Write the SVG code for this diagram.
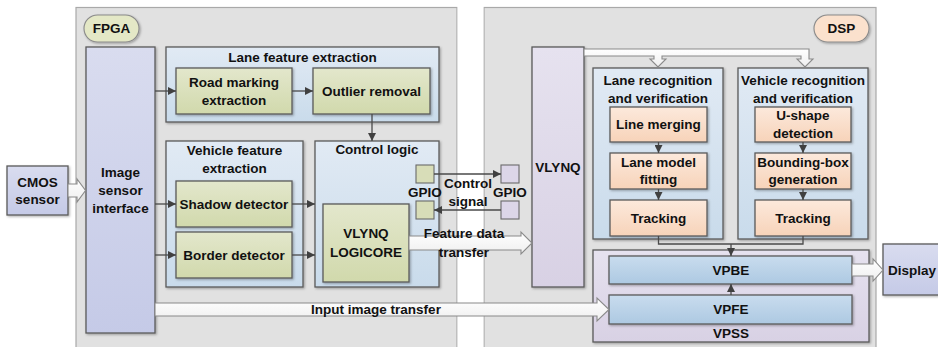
<svg xmlns="http://www.w3.org/2000/svg" width="938" height="347" viewBox="0 0 938 347">
<defs>
  <linearGradient id="gBlue" x1="0" y1="0" x2="0" y2="1">
    <stop offset="0" stop-color="#e1eaf4"/><stop offset="1" stop-color="#c9dbeb"/>
  </linearGradient>
  <linearGradient id="gGreen" x1="0" y1="0" x2="0" y2="1">
    <stop offset="0" stop-color="#e3e7cc"/><stop offset="1" stop-color="#d1d9ac"/>
  </linearGradient>
  <linearGradient id="gOrange" x1="0" y1="0" x2="0" y2="1">
    <stop offset="0" stop-color="#fce9dc"/><stop offset="1" stop-color="#f7d3b9"/>
  </linearGradient>
  <linearGradient id="gIsi" x1="0" y1="0" x2="0" y2="1">
    <stop offset="0" stop-color="#d9dcef"/><stop offset="1" stop-color="#c5cae7"/>
  </linearGradient>
  <linearGradient id="gLav" x1="0" y1="0" x2="0" y2="1">
    <stop offset="0" stop-color="#e6e2ef"/><stop offset="1" stop-color="#d8d1e4"/>
  </linearGradient>
  <linearGradient id="gVp" x1="0" y1="0" x2="0" y2="1">
    <stop offset="0" stop-color="#c9dcee"/><stop offset="1" stop-color="#adc9e2"/>
  </linearGradient>
  <linearGradient id="gArrow" x1="0" y1="0" x2="0" y2="1">
    <stop offset="0" stop-color="#ffffff"/><stop offset="1" stop-color="#efefef"/>
  </linearGradient>
  <filter id="sh" x="-10%" y="-10%" width="130%" height="130%">
    <feDropShadow dx="1.2" dy="1.2" stdDeviation="0.8" flood-color="#000" flood-opacity="0.3"/>
  </filter>
  <marker id="ah" viewBox="0 0 8 8" refX="8" refY="4" markerWidth="8" markerHeight="8" markerUnits="userSpaceOnUse" orient="auto">
    <path d="M0,0 L8,4 L0,8 Z" fill="#404040"/>
  </marker>
  <style>
    text { font-family: "Liberation Sans", Arial, sans-serif; font-weight: bold; font-size: 13.5px; fill: #111; text-anchor: middle; dominant-baseline: central; }
    .outer { fill: #e1e1e1; stroke: #a9a9a9; stroke-width: 1.2; }
    .grp { fill: url(#gBlue); stroke: #5a5a5a; stroke-width: 1.3; filter: url(#sh); }
    .green { fill: url(#gGreen); stroke: #5a5a5a; stroke-width: 1.3; filter: url(#sh); }
    .orange { fill: url(#gOrange); stroke: #5a5a5a; stroke-width: 1.3; filter: url(#sh); }
    .isi { fill: url(#gIsi); stroke: #5a5a5a; stroke-width: 1.3; filter: url(#sh); }
    .lav { fill: url(#gLav); stroke: #5a5a5a; stroke-width: 1.3; filter: url(#sh); }
    .vp { fill: url(#gVp); stroke: #5a5a5a; stroke-width: 1.3; filter: url(#sh); }
    .gpioF { fill: #d8ddb8; stroke: #6a6a6a; stroke-width: 1.1; }
    .gpioD { fill: #dcd6e8; stroke: #6a6a6a; stroke-width: 1.1; }
    .conn { fill: none; stroke: #4a4a4a; stroke-width: 1.3; }
    .big { fill: url(#gArrow); stroke: #8a8a8a; stroke-width: 1.1; }
  </style>
</defs>

<rect width="938" height="347" fill="#ffffff"/>

<!-- FPGA container -->
<g id="fpga">
  <rect class="outer" x="76" y="7.5" width="381" height="345"/>
  <rect x="84" y="15" width="55" height="27" rx="13.5" fill="#e4e8c6" stroke="#8a8a8a" stroke-width="1.1" filter="url(#sh)"/>
  <text x="111.5" y="28.5">FPGA</text>
</g>

<!-- DSP container -->
<g id="dsp">
  <rect class="outer" x="484" y="7.5" width="392" height="345"/>
  <rect x="814" y="15" width="55" height="27" rx="13.5" fill="#fbe1cd" stroke="#8a8a8a" stroke-width="1.1" filter="url(#sh)"/>
  <text x="841.5" y="28.5">DSP</text>
</g>

<g id="cmos">
  <rect class="isi" x="7" y="166" width="61" height="49"/>
  <text x="37.5" y="182">CMOS</text>
  <text x="37.5" y="199">sensor</text>
</g>

<g id="image-sensor-interface">
  <rect class="isi" x="86" y="47" width="69" height="286"/>
  <text x="120.5" y="172">Image</text>
  <text x="120.5" y="190">sensor</text>
  <text x="120.5" y="208">interface</text>
</g>

<g id="lane-feature-extraction">
  <rect class="grp" x="166" y="47" width="273" height="75"/>
  <text x="302.5" y="57">Lane feature extraction</text>
</g>
<g id="road-marking-extraction">
  <rect class="green" x="176" y="68" width="116" height="46"/>
  <text x="234" y="82">Road marking</text>
  <text x="234" y="100">extraction</text>
</g>
<g id="outlier-removal">
  <rect class="green" x="313" y="68" width="117" height="46"/>
  <text x="371.5" y="91">Outlier removal</text>
</g>

<g id="vehicle-feature-extraction">
  <rect class="grp" x="166" y="141" width="137" height="146"/>
  <text x="234.5" y="150">Vehicle feature</text>
  <text x="234.5" y="168">extraction</text>
</g>
<g id="shadow-detector">
  <rect class="green" x="176" y="181" width="116" height="46"/>
  <text x="234" y="204">Shadow detector</text>
</g>
<g id="border-detector">
  <rect class="green" x="176" y="232" width="116" height="46"/>
  <text x="234" y="255">Border detector</text>
</g>

<g id="control-logic">
  <rect class="grp" x="315" y="141" width="124" height="146"/>
  <text x="377" y="149">Control logic</text>
</g>
<g id="vlynq-logicore">
  <rect class="green" x="323" y="204" width="86" height="78"/>
  <text x="366" y="233">VLYNQ</text>
  <text x="366" y="252">LOGICORE</text>
</g>
<g id="gpio-fpga">
  <rect class="gpioF" x="416" y="165" width="18" height="18"/>
  <rect class="gpioF" x="416" y="201" width="18" height="18"/>
  <text x="425" y="192">GPIO</text>
</g>

<!-- white gap between the two chips -->
<rect x="457.6" y="0" width="25.8" height="347" fill="#ffffff"/>

<g id="gpio-dsp">
  <rect class="gpioD" x="501" y="165" width="18" height="18"/>
  <rect class="gpioD" x="501" y="201" width="18" height="18"/>
  <text x="510" y="192">GPIO</text>
</g>

<g id="vlynq">
  <rect class="lav" x="532" y="47" width="52" height="240"/>
  <text x="558" y="167">VLYNQ</text>
</g>

<g id="lane-recognition">
  <rect class="grp" x="593" y="68" width="130" height="171"/>
  <text x="658" y="80">Lane recognition</text>
  <text x="658" y="98">and verification</text>
</g>
<g id="line-merging">
  <rect class="orange" x="610" y="107" width="97" height="35"/>
  <text x="658.5" y="124.5">Line merging</text>
</g>
<g id="lane-model-fitting">
  <rect class="orange" x="610" y="153" width="97" height="36"/>
  <text x="658.5" y="162">Lane model</text>
  <text x="658.5" y="179">fitting</text>
</g>
<g id="lane-tracking">
  <rect class="orange" x="610" y="200" width="97" height="36"/>
  <text x="658.5" y="218">Tracking</text>
</g>

<g id="vehicle-recognition">
  <rect class="grp" x="738" y="68" width="130" height="171"/>
  <text x="803" y="80">Vehicle recognition</text>
  <text x="803" y="98">and verification</text>
</g>
<g id="u-shape-detection">
  <rect class="orange" x="755" y="107" width="96" height="35"/>
  <text x="803" y="115">U-shape</text>
  <text x="803" y="133">detection</text>
</g>
<g id="bounding-box-generation">
  <rect class="orange" x="755" y="153" width="96" height="36"/>
  <text x="803" y="162">Bounding-box</text>
  <text x="803" y="179">generation</text>
</g>
<g id="vehicle-tracking">
  <rect class="orange" x="755" y="200" width="96" height="36"/>
  <text x="803" y="218">Tracking</text>
</g>

<g id="vpss">
  <rect class="lav" x="593" y="250" width="276" height="92"/>
  <text x="731" y="333">VPSS</text>
</g>
<g id="vpbe">
  <rect class="vp" x="609" y="256" width="243" height="28"/>
  <text x="731" y="270">VPBE</text>
</g>
<g id="vpfe">
  <rect class="vp" x="609" y="295" width="243" height="29"/>
  <text x="731" y="309.5">VPFE</text>
</g>

<g id="display">
  <rect class="isi" x="883" y="244" width="60" height="51"/>
  <text x="912" y="270">Display</text>
</g>

<!-- connectors -->
<g id="connectors">
  <!-- thin signal lines -->
  <path class="conn" d="M155,91 H176" marker-end="url(#ah)"/>
  <path class="conn" d="M292,91 H313" marker-end="url(#ah)"/>
  <path class="conn" d="M372,114 V141" marker-end="url(#ah)"/>
  <path class="conn" d="M155,204 H176" marker-end="url(#ah)"/>
  <path class="conn" d="M155,255 H176" marker-end="url(#ah)"/>
  <path class="conn" d="M292,204 H315" marker-end="url(#ah)"/>
  <path class="conn" d="M292,255 H315" marker-end="url(#ah)"/>
  <path class="conn" d="M434,174 H501" marker-end="url(#ah)"/>
  <path class="conn" d="M501,210 H434" marker-end="url(#ah)"/>
  <path class="conn" d="M658.5,142 V153" marker-end="url(#ah)"/>
  <path class="conn" d="M658.5,189 V200" marker-end="url(#ah)"/>
  <path class="conn" d="M803,142 V153" marker-end="url(#ah)"/>
  <path class="conn" d="M803,189 V200" marker-end="url(#ah)"/>
  <path class="conn" d="M658.5,236 V244 H803 V236"/>
  <path class="conn" d="M731,244 V256" marker-end="url(#ah)"/>
  <path class="conn" d="M731,295 V284" marker-end="url(#ah)"/>

  <!-- block arrows -->
  <path class="big" d="M68,184 H77 V179 L85.5,190.5 L77,202 V197 H68 Z"/>
  <path class="big" d="M409,236 H521 V232 L532,243 L521,254 V250 H409 Z"/>
  <path class="big" d="M155,303 H597 V298 L609,309.5 L597,321 V316 H155 Z"/>
  <path class="big" d="M852,264 H873 V259 L883,270 L873,281 V276 H852 Z"/>
  <path class="big" d="M584,49 H809 V59 H813 L805,67 L797,59 H801 V56 H662 V59 H666 L658,67 L650,59 H654 V56 H584 Z"/>

  <!-- labels on the links -->
  <text x="468" y="183">Control</text>
  <text x="468" y="201">signal</text>
  <text x="464" y="233">Feature data</text>
  <text x="464" y="252">transfer</text>
  <text x="376" y="309">Input image transfer</text>
</g>
</svg>
